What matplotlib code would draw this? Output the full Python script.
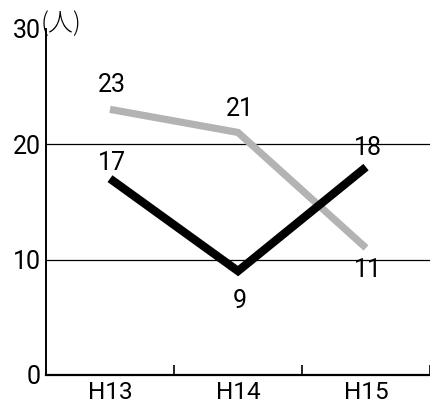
import matplotlib
matplotlib.use("Agg")
import matplotlib.pyplot as plt

plt.rcParams['font.family'] = ['Roboto', 'Noto Sans CJK JP', 'DejaVu Sans']
plt.rcParams['font.weight'] = 'normal'

categories = ["H13", "H14", "H15"]
series_gray = [23, 21, 11]
series_black = [17, 9, 18]
yticks = [0, 10, 20, 30]

W, H = 431, 403
fig = plt.figure(figsize=(W/100, H/100), dpi=100)
ax = fig.add_axes([46/W, (H-375)/H, (430-46)/W, (375-28.5)/H])

x = list(range(len(categories)))
ax.plot(x, series_gray, color="#b3b3b3", lw=5.2, solid_capstyle="butt", solid_joinstyle="miter", zorder=3)
ax.plot(x, series_black, color="black", lw=6.0, solid_capstyle="butt", solid_joinstyle="miter", zorder=4)

gray_off = [12.5, 11.5, -7.5]
black_off = [6.5, -13, 8.5]
for xi, v, o in zip(x, series_gray, gray_off):
    ax.annotate(str(v), (xi, v), xytext=(1.5, o), textcoords="offset points",
                ha="center", va="baseline" if o > 0 else "top", fontsize=18)
for xi, v, o in zip(x, series_black, black_off):
    ax.annotate(str(v), (xi, v), xytext=(1.5, o), textcoords="offset points",
                ha="center", va="baseline" if o > 0 else "top", fontsize=18)

ax.set_xlim(-0.5, 2.5)
ax.set_ylim(0, 30)
for g in [10, 20]:
    ax.axhline(g, color="black", lw=0.9, zorder=1)

ax.set_yticks(yticks)
ax.set_yticklabels([str(t) for t in yticks], fontsize=18)
ax.tick_params(axis="y", length=0, pad=4)
ax.set_xticks([0.5, 1.5, 2.5])
ax.set_xticklabels([])
ax.set_xticks(x, minor=True)
ax.set_xticklabels(categories, minor=True, fontsize=17.5)
ax.tick_params(axis="x", which="major", direction="in", length=7, width=1.2)
ax.tick_params(axis="x", which="minor", length=0, pad=4)

for s in ["top", "right"]:
    ax.spines[s].set_visible(False)
ax.spines["left"].set_linewidth(1.4)
ax.spines["bottom"].set_linewidth(1.6)

fig.text(41/W, 1 - 24/H, "(人)", fontsize=18, ha="left", va="center",
         family=['Noto Sans CJK JP', 'DejaVu Sans'], weight='light')

fig.savefig("out.png", dpi=100)
